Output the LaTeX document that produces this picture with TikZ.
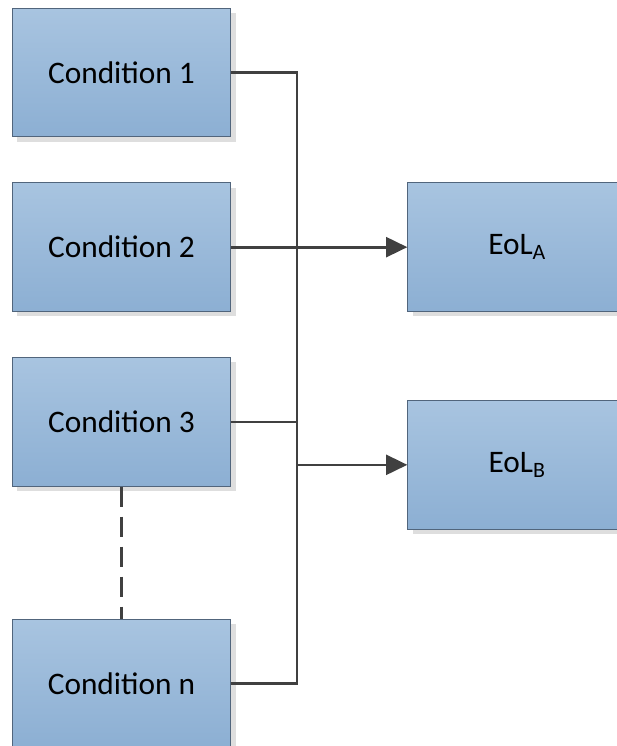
\documentclass[tikz,border=0pt]{standalone}
\usepackage{fontspec}
\setmainfont{Carlito}
\usepackage{tikz}
\usetikzlibrary{positioning,arrows.meta,shadows}

\definecolor{boxtop}{HTML}{A8C4E0}
\definecolor{boxbot}{HTML}{8CAFD3}
\definecolor{boxline}{HTML}{51657C}
\definecolor{wire}{HTML}{404040}

\tikzset{
  condbox/.style={rectangle, draw=boxline, line width=0.75pt,
    top color=boxtop, bottom color=boxbot,
    minimum width=164pt, minimum height=96.5pt, inner sep=0pt,
    drop shadow={shadow xshift=3.5pt, shadow yshift=-3.5pt, fill=black!13, opacity=1},
    font=\fontsize{23.5}{28}\selectfont},
  wireline/.style={draw=wire, line width=2pt},
  wirearrow/.style={wireline, -{Triangle[length=16pt,width=15pt]}}
}

\begin{document}
\begin{tikzpicture}[x=0.75pt, y=-0.75pt]
  \useasboundingbox (0,0) rectangle (617,746);
  \node[condbox] (c1) at (121.5,72.5) {Condition 1};
  \node[condbox, below=33.75pt of c1] (c2) {Condition 2};
  \node[condbox, below=33.75pt of c2] (c3) {Condition 3};
  \node[condbox, below=99pt of c3] (cn) {Condition n};
  \node[condbox, right=132pt of c2] (eolA) {EoL\textsubscript{A}};
  \node[condbox, below=66pt of eolA] (eolB) {EoL\textsubscript{B}};
  \coordinate (bus) at (297,0);

  % bus on the right of the conditions
  \draw[wireline] (c1.east) -| (bus |- cn.east) -- (cn.east);
  \draw[wireline] (c3.east) -- (c3.east -| bus);
  \draw[wireline, dash pattern=on 15pt off 7.5pt] (c3.south) -- (cn.north);

  % outputs
  \draw[wirearrow] (c2.east) -- (eolA.west);
  \draw[wirearrow] (bus |- eolB.west) -- (eolB.west);
\end{tikzpicture}
\end{document}
